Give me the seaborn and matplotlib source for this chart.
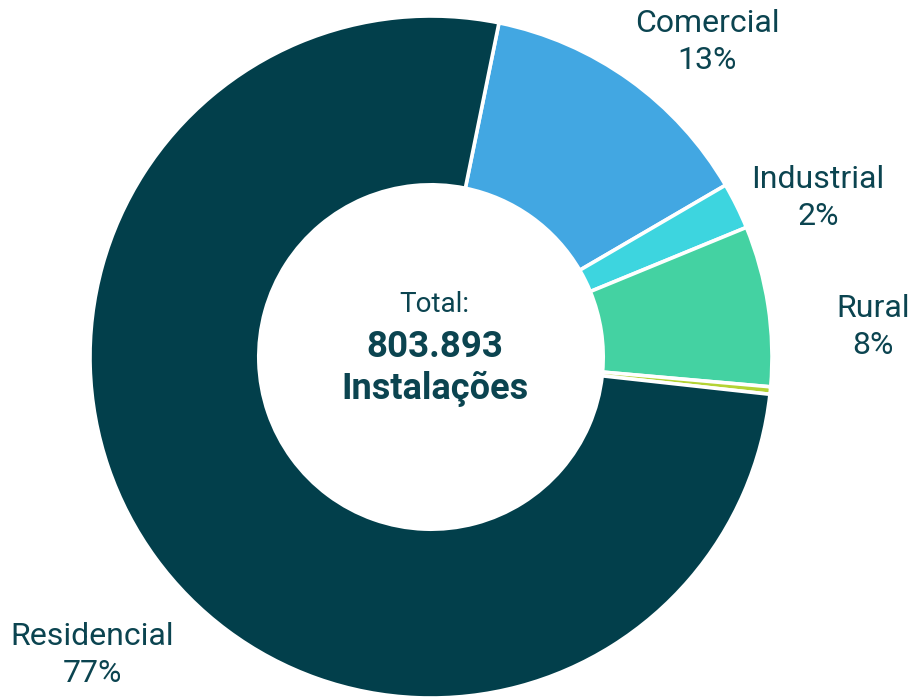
import matplotlib
matplotlib.use("Agg")
import matplotlib.pyplot as plt
import seaborn as sns

# Share of installations by consumer class (percent)
categories = ["Comercial", "Industrial", "Rural", "Outros", "Residencial"]
shares = [13.4, 2.2, 7.6, 0.35, 76.45]
label_texts = ["Comercial\n13%", "Industrial\n2%", "Rural\n8%", None, "Residencial\n77%"]
colors = ["#42a7e2", "#3dd5df", "#44d2a2", "#b4d334", "#023f4b"]
total_text = "803.893"

sns.set_theme(style="white")
plt.rcParams["font.family"] = ["Roboto", "DejaVu Sans"]

W, H = 915, 699
fig = plt.figure(figsize=(W / 100, H / 100), dpi=100)
ax = fig.add_axes([0, 0, 1, 1])

cx, cy, r = 431, H - 357, 341
palette = sns.color_palette(colors)
ax.pie(
    shares,
    colors=palette,
    startangle=78.5,
    counterclock=False,
    center=(cx, cy),
    radius=r,
    wedgeprops=dict(width=r * 0.495, edgecolor="white", linewidth=2.6),
    frame=True,
)
ax.set_xlim(0, W)
ax.set_ylim(0, H)
ax.set_aspect("equal")
ax.axis("off")

text_color = "#0b4450"
label_pos = {
    "Comercial": (707, 42),
    "Industrial": (818, 198),
    "Rural": (873, 327),
    "Residencial": (92, 655),
}
for cat, txt in zip(categories, label_texts):
    if txt is None:
        continue
    x, y = label_pos[cat]
    ax.text(x, H - y, txt, ha="center", va="center", fontsize=23,
            color=text_color, linespacing=1.36)

ax.text(cx + 3, H - 305, "Total:", ha="center", va="center", fontsize=20,
        color=text_color)
ax.text(cx + 4, H - 347, total_text, ha="center", va="center", fontsize=26.5,
        fontweight="bold", color=text_color)
ax.text(cx + 4, H - 389, "Instalações", ha="center", va="center", fontsize=26,
        fontweight="bold", color=text_color)

fig.savefig("out.png", dpi=100, facecolor="white")
